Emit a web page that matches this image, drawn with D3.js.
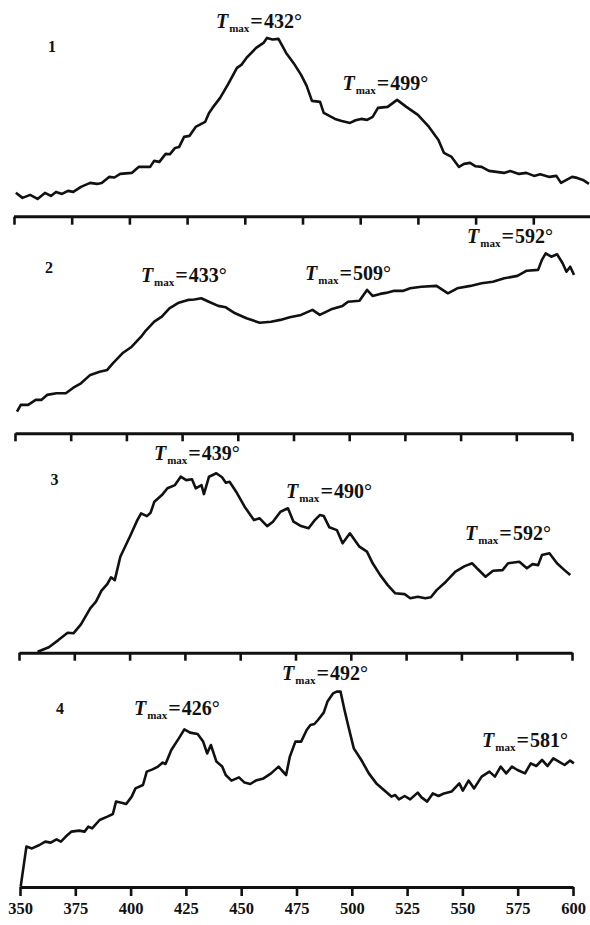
<!DOCTYPE html>
<html>
<head>
<meta charset="utf-8">
<script src="https://cdn.jsdelivr.net/npm/d3@7"></script>
<style>
  body { margin: 0; background: #fff; }
  svg text { font-family: "Liberation Serif", "DejaVu Serif", serif; font-weight: bold; fill: #111; }
</style>
</head>
<body>
<div id="chart"></div>
<script>
// temperature ticks shared by all four traces
var tickTemps = [350, 375, 400, 425, 450, 475, 500, 525, 550, 575, 600];

// trace values, [temperature, relative signal]
var trace1 = [[350.8,12.0],[353.7,9.4],[357.0,10.9],[360.2,8.9],[363.4,11.9],[366,10.4],[368.2,12.4],[370.8,11.4],
  [373.4,12.9],[375.7,12.4],[379,14.9],[383,16.9],[386,16.4],[388,16.9],[391.2,19.9],[393.5,19.6],[396,21.4],[401,21.9],[404,24.9],
  [409,24.9],[410.7,27.9],[413,27.4],[415.7,31.4],[417.5,31.2],[419.8,34.4],[421.5,34.8],[423.7,39.9],[426,40.4],[428.7,44.9],[432.8,47.4],
  [434.5,51.9],[436,54.4],[439.3,59.4],[442.6,65.9],[446.6,74.4],[448.5,75.9],[450.7,79.4],[454.9,84.4],[458.1,86.9],[459.6,89.4],[462,88.6],
  [464.6,88.9],[467.9,81.9],[471.1,76.9],[474.4,70.9],[476.8,65.4],[479.1,57.9],[482.6,57.4],[484.2,51.9],[489.1,48.9],
  [492,47.9],[495.6,46.9],[498,48.2],[500.4,48.9],[503,48.4],[505.4,49.9],[507.7,54.4],[511.9,54.9],[516,58.4],
  [520,54.9],[525,50.9],[529.8,44.9],[533.9,38.4],[536.3,31.9],[539.6,29.9],[542.8,24.9],[545,26.4],[547.6,26.9],
  [550,25.2],[552.6,24.9],[555.8,22.9],[559,22.4],[562.3,21.9],[565,22.8],[568.8,21.4],[572,21.9],[575.3,20.4],
  [578,21.2],[582,19.9],[585,20.4],[587,16.9],[589,18.2],[591.8,19.9],[594,19.4],[596.5,18.4],[599.1,16.4]];

var trace2 = [[350.9,10.8],[352.6,14.2],[355.9,14.2],[359.3,16.7],[361.8,16.7],[364.4,19.2],[368.6,20],[372.8,20],
  [376.2,22.8],[379.6,25],[383.8,29.2],[388,30.8],[391.4,31.7],[393.9,35],[398.2,40],[402.4,43.3],[406.6,48.3],
  [408.3,50.8],[412.5,55.8],[415.9,58.3],[419.3,62.5],[423.5,65.3],[427.7,66.7],[430.5,66.9],[433.6,67.5],[437,65.8],
  [441.2,63.7],[444.6,63],[448.8,60],[453.9,57.5],[459.8,55.3],[464.9,55.8],[469.1,56.7],[473.3,58],[478.4,59.2],
  [483.5,61.7],[486.8,59.2],[491.9,62],[497,63.7],[499.5,65.8],[504.6,66.3],[508,71.7],[510.5,68.7],[513.9,69.7],
  [516.5,70.2],[519.8,71.2],[524,71.2],[527.4,72.5],[532.4,73.3],[539.2,73.7],[544.3,70],[548.5,72.5],[554.4,73.7],
  [559.4,75],[564.5,75.8],[569.6,77.5],[575.5,78.7],[579.7,81.3],[584.8,81.7],[586.5,86.7],[588.2,90],[590.7,88.3],
  [593.3,89.5],[595.8,85],[597.5,80.8],[599.2,83.3],[600.9,79.2]];

var trace3 = [[358.4,0.5],[363.5,2.7],[367.8,6.3],[372,10],[374.6,9.7],[378,14.2],[382.2,22.2],[384.8,25.5],
  [387.3,31],[389.9,34.3],[391.6,37.7],[393.3,36.3],[395.8,48],[400.1,58],[403.5,66.3],[405.2,69.7],[407.8,68.3],
  [409.5,70],[411.2,75.5],[414.6,78.8],[417.1,82.2],[420.5,83.8],[423.1,88],[425.6,86.3],[428.2,86.7],[429.9,82.2],
  [432.5,83.8],[433.6,79.3],[435.9,88],[439.2,89.7],[441.8,87.7],[443.5,85],[445.2,85.5],[448.6,79.7],[452,73],
  [456.2,66.3],[458.8,67.2],[462.2,63.3],[464.8,65.5],[468.2,70.5],[471.6,72.2],[474.1,65.5],[477.5,63.3],
  [480.9,62.2],[483.5,66],[486,68.8],[487.8,68.3],[490.3,62.7],[493.7,61.3],[496.3,54.7],[499.6,59.7],[503.9,53],
  [507.3,50.5],[509.9,44.7],[513.3,38.8],[516.7,33.8],[520.1,29.7],[524.3,29.3],[526.9,27.2],[530.3,28],[533.7,27.2],
  [536.2,27.7],[538.8,31.3],[543,35.5],[547.3,40.5],[551.5,43.3],[554.9,44.7],[557.5,41.7],[560.9,38],[564.3,41],
  [568.6,41.3],[571.1,44.7],[576.2,45.5],[579.6,42.2],[582.2,44.3],[584.7,43.8],[586.4,48.8],[589.8,49.7],
  [593.2,44.7],[596.6,41.3],[599.2,38.8]];

var trace4 = [[350.3,0.2],[352.9,20.2],[355.4,19.3],[358.8,21],[361.4,22.7],[363.9,22.2],[366.5,23.8],[368.5,22.7],
  [370.7,25.2],[373.3,27.7],[376.7,28.2],[379.2,27.7],[380.9,30.2],[382.6,29.3],[386,33.5],[389.5,35.2],[392,36.5],
  [393.4,42.7],[395.4,42.2],[398,41.5],[400.5,45.2],[402.2,49.3],[405.6,51],[407.3,57.7],[409.9,58.8],[412.4,60.2],
  [414.5,62.2],[415.8,61.5],[418.4,68.5],[421.8,74.3],[424.3,78.8],[426.9,77.2],[430.3,76.5],[432.8,72.7],[434.6,66.8],
  [436.3,71],[438.8,62.7],[441.4,60.2],[443,56],[445.6,53.2],[449,54.8],[451.5,52.2],[454.1,51.5],[456.6,53.2],
  [460.1,54.3],[463.5,56.8],[466.9,60.2],[468.2,58.5],[470.3,56],[472,65.2],[474.5,72.7],[477.1,72.7],[479.6,78.5],
  [481.3,81],[483.1,81.5],[484.7,83.5],[487.3,87.2],[489,92.7],[491.5,96.8],[493.2,97.7],[494.9,97.7],[496.7,88.5],
  [498.3,81],[500.9,69.3],[504.3,63.5],[507.7,56.8],[511.1,51.8],[514.5,48.5],[517.9,45.2],[519.6,46],[521.3,43.8],
  [523.9,45.5],[526.4,43.8],[529.8,47.2],[531.5,44.8],[534.1,42.7],[536.6,46.8],[539.2,45.5],[541.7,46.8],[545.1,47.7],
  [548.6,51.8],[550.2,48.2],[552.8,53.2],[555.3,49.3],[558.7,55.2],[562.2,57.7],[564.7,55.2],[567.3,60.2],[569.8,56.8],
  [572.4,60.2],[574.9,58.5],[578.3,56.8],[580.9,61.8],[583.4,60.5],[586,63.5],[588.5,60.5],[591.1,64.3],[593.6,62.7],
  [596.2,61],[598.7,63.2],[600.4,61.8]];

// peak annotations: label value, placed at [temperature, signal]
var peaks1 = [["432", 437.5, 94.3], ["499", 492.3, 63.4]];
var peaks2 = [["433", 406.5, 75.7], ["509", 480.2, 76.7], ["592", 552.9, 95.2]];
var peaks3 = [["439", 411, 96.4], ["490", 470.7, 77.4], ["592", 551.6, 56.4]];
var peaks4 = [["426", 401.5, 86], ["492", 468.5, 103.5], ["581", 558.9, 70]];

var sampleNames = ["1", "2", "3", "4"];
var nameAt = [[366.5, 82.4], [365.3, 80.2], [366.1, 83.9], [368.1, 86.5]];

var width = 590, height = 925;

// each trace has its own baseline and slightly different axis span
var panels = [
  {trace: trace1, peaks: peaks1, x0: 14, x1: 591, base: 216.7},
  {trace: trace2, peaks: peaks2, x0: 15, x1: 572, base: 433.3},
  {trace: trace3, peaks: peaks3, x0: 19, x1: 572, base: 652.7},
  {trace: trace4, peaks: peaks4, x0: 20, x1: 573, base: 887}
];

var svg = d3.select("#chart").append("svg")
  .attr("width", width)
  .attr("height", height);

panels.forEach(function(p, i) {
  var x = d3.scaleLinear().domain([350, 600]).range([p.x0, p.x1]);
  var y = d3.scaleLinear().domain([0, 100]).range([p.base, p.base - 200]);
  var last = i === panels.length - 1;

  var axis = d3.axisBottom(x)
    .tickValues(tickTemps)
    .tickSize(last ? 9 : 8)
    .tickSizeOuter(0)
    .tickPadding(6)
    .tickFormat(last ? d3.format("d") : "");

  var ax = svg.append("g")
    .attr("transform", "translate(0," + p.base + ")")
    .call(axis);
  ax.select(".domain")
    .attr("stroke", "#111")
    .attr("stroke-width", 3);
  if (i === 0) ax.select(".domain").attr("d", "M" + p.x0 + ",0H" + width);
  ax.selectAll(".tick line")
    .attr("stroke", "#111")
    .attr("stroke-width", 2.6);
  ax.selectAll(".tick text")
    .attr("font-family", "Liberation Serif")
    .attr("font-weight", "bold")
    .attr("font-size", 16.5)
    .attr("fill", "#111");

  var line = d3.line()
    .x(function(d) { return x(d[0]); })
    .y(function(d) { return y(d[1]); });

  svg.append("path")
    .datum(p.trace)
    .attr("d", line)
    .attr("fill", "none")
    .attr("stroke", "#111")
    .attr("stroke-width", 2.6)
    .attr("stroke-linejoin", "round");

  svg.append("text")
    .attr("x", x(nameAt[i][0]))
    .attr("y", y(nameAt[i][1]))
    .attr("text-anchor", "middle")
    .attr("font-size", 16)
    .text(sampleNames[i]);

  p.peaks.forEach(function(pk) {
    var t = svg.append("text")
      .attr("x", x(pk[1]))
      .attr("y", y(pk[2]))
      .attr("font-size", 20);
    t.append("tspan").attr("font-style", "italic").text("T");
    t.append("tspan").attr("font-size", 11).attr("dy", 4).attr("dx", 1).text("max");
    t.append("tspan").attr("dy", -4).attr("dx", 1).attr("font-size", 22).text("=");
    t.append("tspan").attr("dx", 1).text(pk[0] + "°");
  });
});
</script>
</body>
</html>
